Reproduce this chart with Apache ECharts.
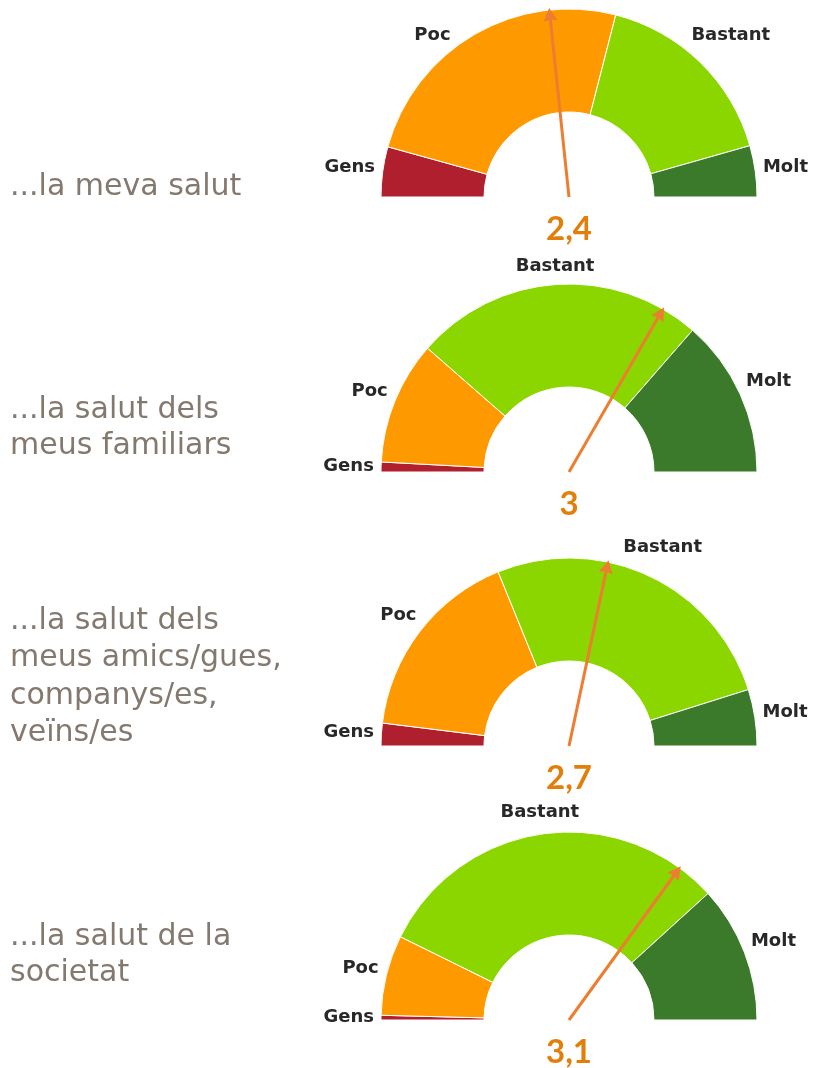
<!DOCTYPE html>
<html>
<head>
<meta charset="utf-8">
<title>Preocupació per la salut</title>
<script src="https://cdn.jsdelivr.net/npm/echarts@6/dist/echarts.min.js"></script>
<style>
  html, body { margin: 0; padding: 0; background: #fff; }
  #main { width: 818px; height: 1068px; }
</style>
</head>
<body>
<div id="main"></div>
<script>
// categories de resposta
var categories = ['Gens', 'Poc', 'Bastant', 'Molt'];
// text de cada pregunta (columna esquerra)
var questions = [
  '...la meva salut',
  '...la salut dels\nmeus familiars',
  '...la salut dels\nmeus amics/gues,\ncompanys/es,\nveïns/es',
  '...la salut de la\nsocietat'
];
// % per categoria, una posicio per pregunta
var gens = [8.6, 1.7, 3.9, 0.8];
var poc = [49.4, 21.2, 33.8, 13.8];
var bastant = [33.2, 50.0, 52.6, 61.9];
var molt = [8.8, 27.2, 9.7, 23.5];
// mitjana, escala 1 (gens) - 4 (molt)
var average = [2.4, 3, 2.7, 3.1];
var scaleMin = 1, scaleMax = 4;

var colors = ['#B01F2E', '#FF9900', '#8CD600', '#3B7A2B'];
var centerX = 569;
var centerY = [197, 472, 746, 1020];
var titleTop = [169, 392, 602, 919];
var titleLineHeight = [36, 36, 37.5, 36];
var outerR = 188, innerR = 85;
var labelTopLimit = 26; // excel no deixa sortir l'etiqueta per dalt

function rowValues(i) {
  return [gens[i], poc[i], bastant[i], molt[i]];
}

// posa l'etiqueta fora de l'arc, centrada a l'angle mig del tros
function makeLabelLayout(row) {
  var values = rowValues(row);
  var total = values.reduce(function (a, b) { return a + b; }, 0);
  return function (params) {
    var idx = params.dataIndex;
    if (idx >= values.length) return {};
    var before = 0;
    for (var k = 0; k < idx; k++) before += values[k];
    var mid = Math.PI * (1 - (before + values[idx] / 2) / total);
    var hw = params.labelRect.width / 2, hh = params.labelRect.height / 2;
    var c = Math.cos(mid), s = Math.sin(mid);
    var R = outerR + 7 + hw * Math.abs(c) + hh * Math.abs(s);
    var cy = centerY[row];
    var x = centerX + R * c, y = cy - R * s;
    if (y - hh < labelTopLimit) {
      var s2 = (cy - labelTopLimit - hh) / R;
      var ang = c < 0 ? Math.PI - Math.asin(s2) : Math.asin(s2);
      x = centerX + R * Math.cos(ang);
      y = cy - R * s2;
    }
    return { x: x, y: y, align: 'center', verticalAlign: 'middle' };
  };
}

var series = [];
var titles = [];

for (var i = 0; i < questions.length; i++) {
  var values = rowValues(i);
  var total = values.reduce(function (a, b) { return a + b; }, 0);
  var data = values.map(function (v, j) {
    return { value: v, name: categories[j], itemStyle: { color: colors[j] } };
  });
  // meitat de baix invisible
  data.push({
    value: total,
    name: '',
    itemStyle: { color: 'rgba(0,0,0,0)', borderWidth: 0 },
    label: { show: false },
    labelLine: { show: false }
  });

  series.push({
    type: 'pie',
    z: 2,
    center: [centerX, centerY[i]],
    radius: [innerR, outerR],
    startAngle: 180,
    clockwise: true,
    silent: true,
    avoidLabelOverlap: false,
    itemStyle: { borderColor: '#fff', borderWidth: 1 },
    label: {
      show: true,
      position: 'outside',
      formatter: '{b}',
      fontFamily: 'DejaVu Sans',
      fontWeight: 'bold',
      fontSize: 18,
      color: '#282828'
    },
    labelLine: { show: false, length: 10, length2: 0 },
    labelLayout: makeLabelLayout(i),
    data: data
  });

  // agulla + valor
  series.push({
    type: 'gauge',
    z: 6,
    center: [centerX, centerY[i]],
    radius: outerR,
    startAngle: 180,
    endAngle: 0,
    min: scaleMin,
    max: scaleMax,
    silent: true,
    axisLine: { show: false },
    splitLine: { show: false },
    axisTick: { show: false },
    axisLabel: { show: false },
    progress: { show: false },
    anchor: { show: false },
    title: { show: false },
    pointer: {
      icon: 'path://M7,0 L14,13 L8.5,12 L8.5,190 L5.5,190 L5.5,12 L0,13 Z',
      length: outerR + 2,
      width: 14,
      offsetCenter: [0, 0],
      itemStyle: { color: '#ED7D31' }
    },
    detail: {
      offsetCenter: [0, 32],
      fontFamily: 'Lato',
      fontWeight: 'bold',
      fontSize: 33,
      color: '#E27F0B',
      formatter: function (v) { return String(v).replace('.', ','); }
    },
    data: [{ value: average[i] }]
  });

  titles.push({
    text: questions[i],
    left: 10,
    top: titleTop[i],
    padding: 0,
    textStyle: {
      fontFamily: 'DejaVu Sans',
      fontWeight: 'normal',
      fontSize: 30,
      lineHeight: titleLineHeight[i],
      color: '#84796F'
    }
  });
}

var chart = echarts.init(document.getElementById('main'), null, { renderer: 'canvas' });
chart.setOption({
  animation: false,
  backgroundColor: '#fff',
  title: titles,
  series: series
});
</script>
</body>
</html>
